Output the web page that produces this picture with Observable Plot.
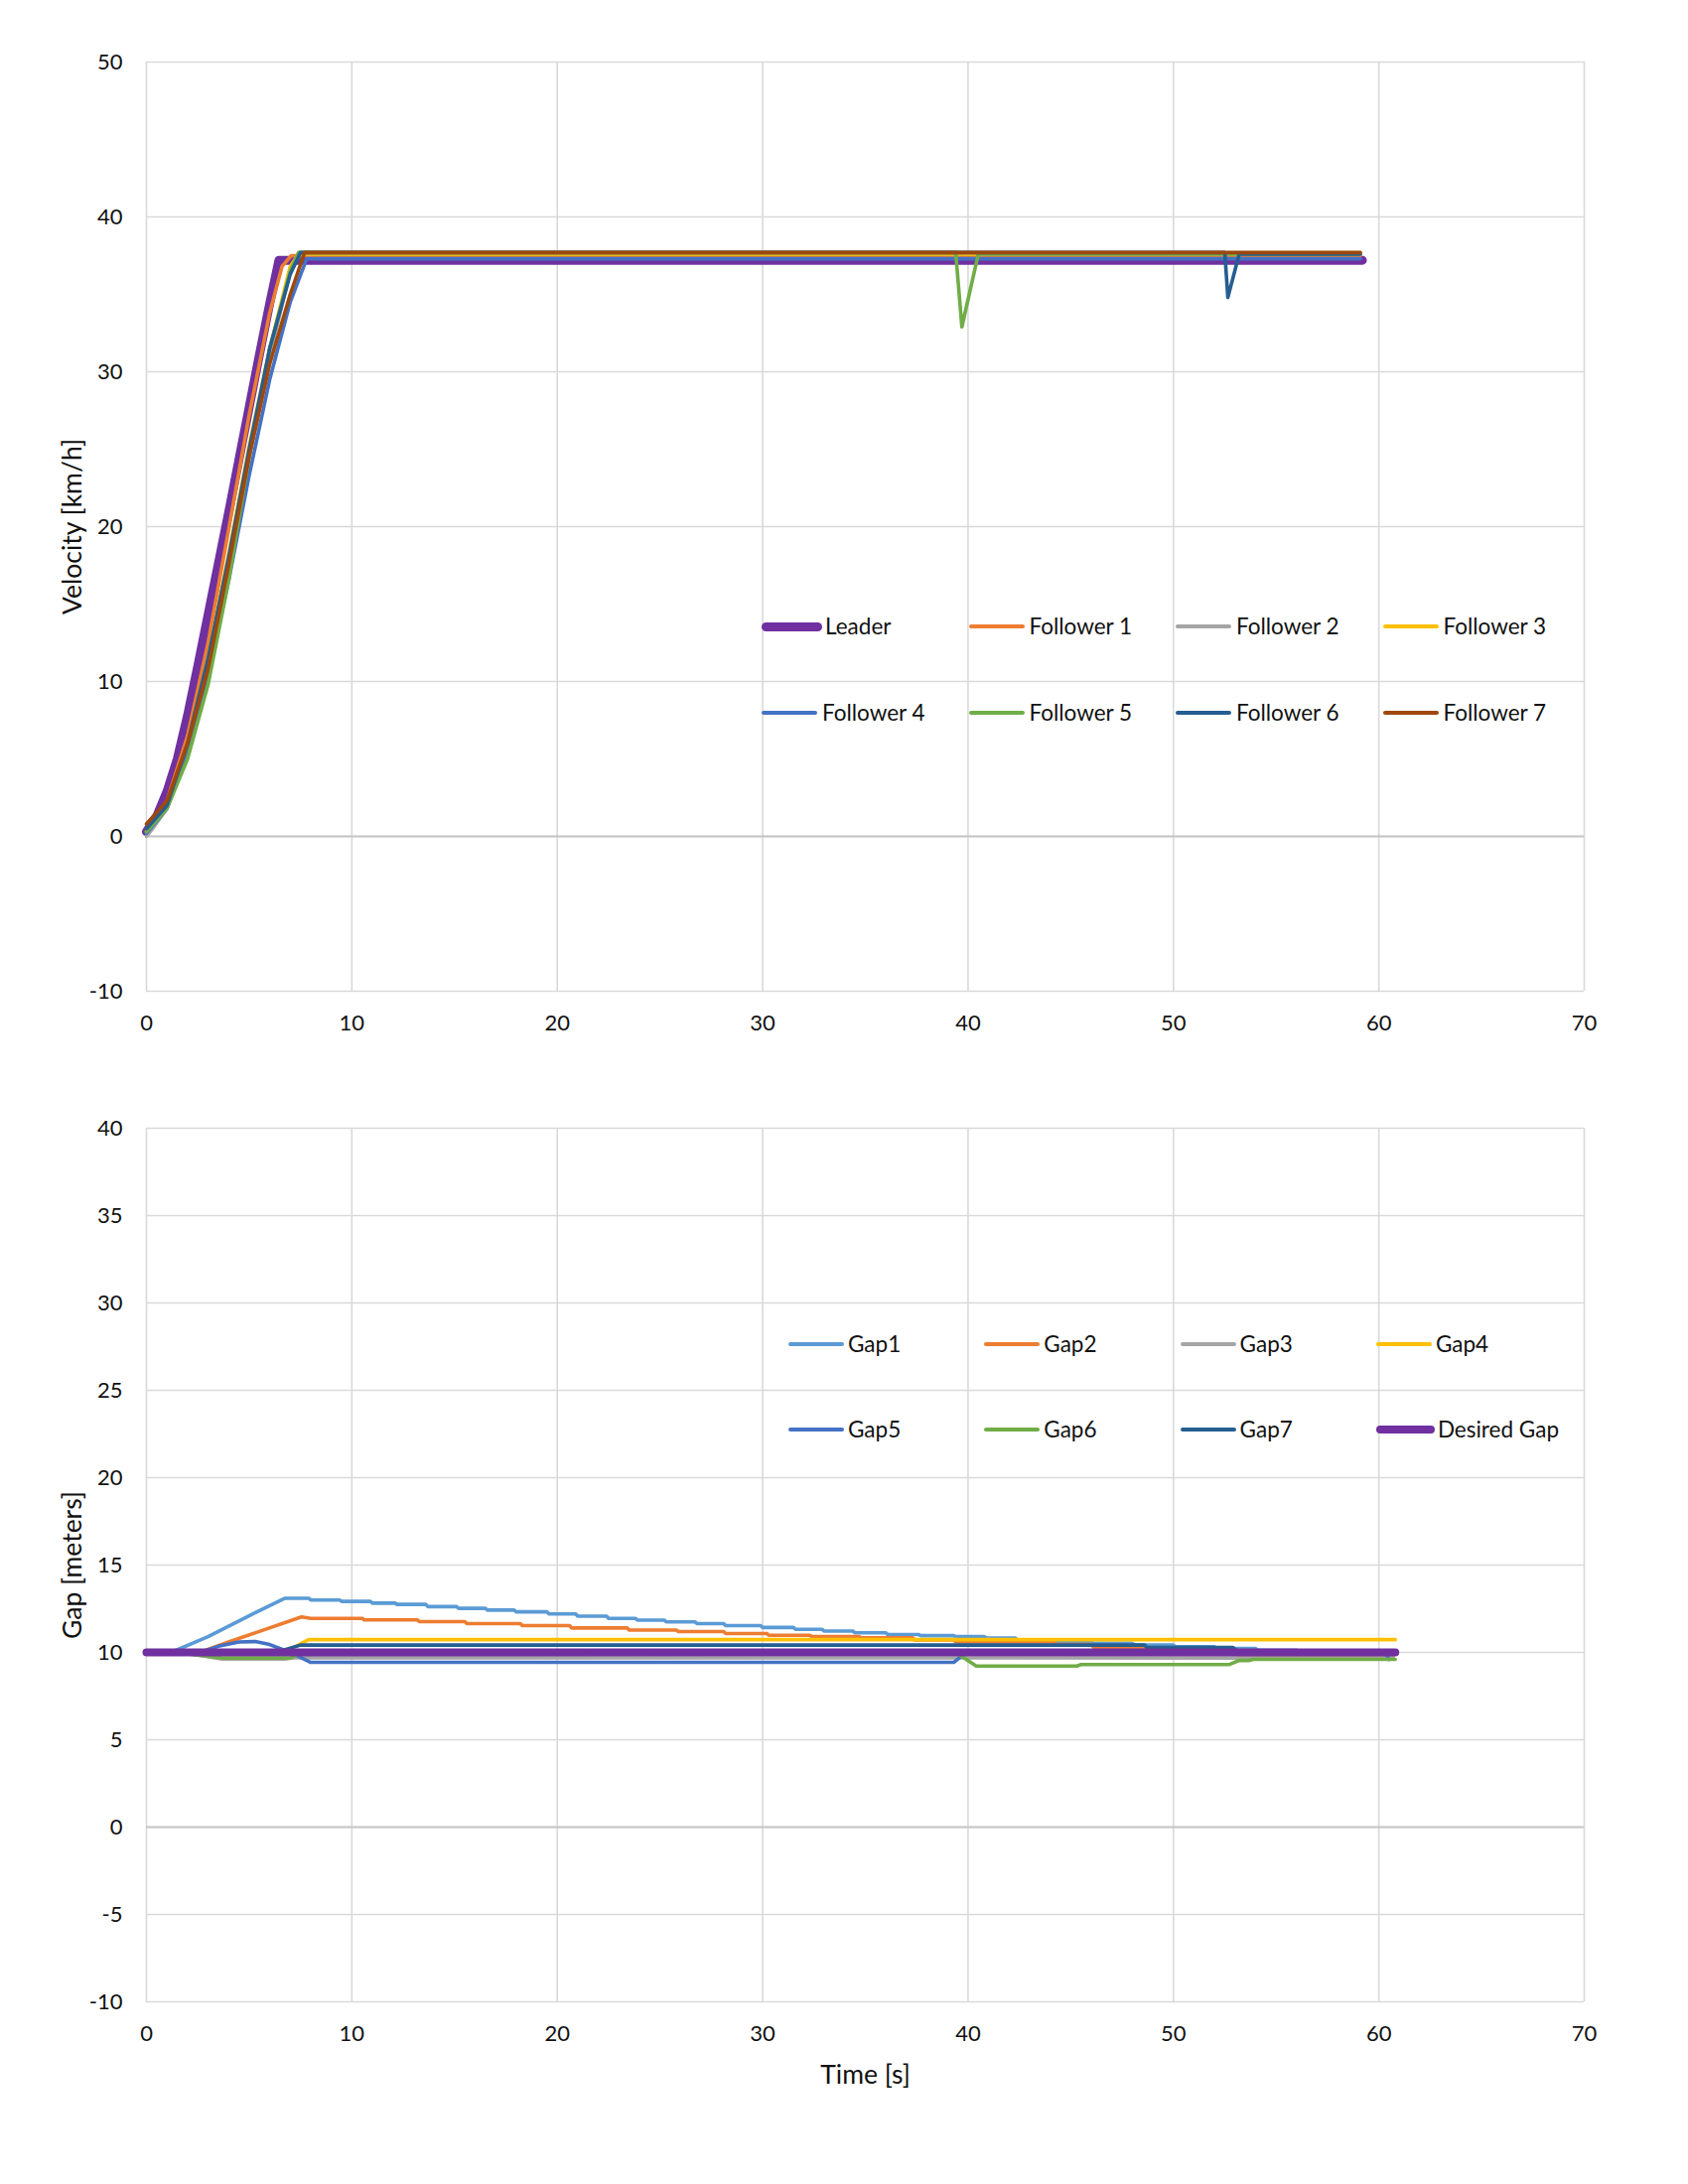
<!DOCTYPE html>
<html>
<head>
<meta charset="utf-8">
<script src="https://cdn.jsdelivr.net/npm/d3@7"></script>
<script src="https://cdn.jsdelivr.net/npm/@observablehq/plot@0.6"></script>
<style>
  body { margin: 0; background: #fff; }
  #page { position: relative; width: 1700px; height: 2200px; font-family: Lato, "Open Sans", sans-serif; }
  .chart { position: absolute; left: 0; }
  .lg { position: absolute; display: flex; align-items: center; font-size: 22.5px; line-height: 30px; color: #111; white-space: nowrap; transform: translateY(-50%); }
  .lg .sw { display: inline-block; border-radius: 999px; }
</style>
</head>
<body>
<div id="page"></div>
<script>
// ---------- Tick values ----------
const timeTicks = [0, 10, 20, 30, 40, 50, 60, 70];
const velocityTicks = [-10, 0, 10, 20, 30, 40, 50];
const gapTicks = [-10, -5, 0, 5, 10, 15, 20, 25, 30, 35, 40];

// ---------- Velocity series [time s, km/h] ----------
const leader = [[0,0.3],[0.5,1.3],[1,2.9],[1.5,5],[2,7.8],[2.5,11],[3,14.3],[3.5,17.6],[4,20.9],[4.5,24.3],[5,27.7],[5.5,31.1],[6,34.4],[6.45,37.2],[59.2,37.2]];
const follower1 = [[0,0.5],[1,2.3],[2,6.5],[3,12.5],[4,19.8],[5,27.2],[6,33.8],[6.6,36.8],[7.05,37.5],[59.1,37.5]];
const follower2 = [[0,0],[0.3,0.5],[1,1.8],[2,5.5],[3,11],[4,17.5],[5,24.5],[6,31],[7,36.5],[7.5,37.6],[59.1,37.6]];
const follower3 = [[0,0.3],[1,2],[2,5.8],[3,11.5],[4,18.2],[5,25.2],[6,31.5],[7,36.8],[7.4,37.6],[59.1,37.6]];
const follower4 = [[0,0.2],[1,1.8],[2,5.5],[3,10.5],[4,16.5],[5,23.3],[6,29.5],[7,34.5],[7.8,37.3],[59.1,37.3]];
const follower5 = [[0,0.3],[1,1.8],[2,5],[3,9.8],[4,16.5],[5,24.5],[6,31.5],[7,36.5],[7.4,37.7],[39.4,37.7],[39.7,32.9],[40.5,37.6],[59.1,37.6]];
const follower6 = [[0,0.5],[1,2],[2,6],[3,11.5],[4,18],[5,25],[6,31.5],[7,36.3],[7.5,37.7],[52.5,37.7],[52.65,34.8],[53.2,37.6],[59.1,37.6]];
const follower7 = [[0,0.8],[1,2.3],[2,6],[3,10.8],[4,17.5],[5,24.5],[6,30.5],[7,35],[7.7,37.7],[59.1,37.7]];

const velocityNames = ["Leader","Follower 1","Follower 2","Follower 3","Follower 4","Follower 5","Follower 6","Follower 7"];
const velocityColors = ["#7030A0","#ED7D31","#A5A5A5","#FFC000","#4472C4","#70AD47","#255E91","#9E480E"];

// ---------- Gap series [time s, meters] ----------
const gap1 = [[0,10],[1.2,10],[3,10.9],[5,12.1],[6.75,13.1],[7.9,13.1],[8,13.0],[9.4,13.0],[9.5,12.92],[10.9,12.92],[11,12.82],[12.1,12.82],[12.2,12.75],[13.6,12.75],[13.7,12.62],[15.1,12.62],[15.2,12.52],[16.5,12.52],[16.6,12.42],[17.9,12.42],[18,12.32],[19.5,12.32],[19.6,12.2],[20.9,12.2],[21,12.07],[22.4,12.07],[22.5,11.95],[23.8,11.95],[23.9,11.85],[25.2,11.85],[25.3,11.75],[26.7,11.75],[26.8,11.65],[28.1,11.65],[28.2,11.53],[29.9,11.53],[30,11.43],[31.5,11.43],[31.6,11.32],[32.9,11.32],[33,11.22],[34.4,11.22],[34.5,11.12],[36,11.12],[36.1,11.02],[37.6,11.02],[37.7,10.96],[39.3,10.96],[39.4,10.9],[40.8,10.9],[40.9,10.82],[42.3,10.82],[42.4,10.72],[44,10.72],[44.1,10.62],[46,10.62],[46.1,10.52],[48,10.52],[48.1,10.42],[50,10.42],[50.1,10.32],[52,10.32],[52.1,10.22],[54,10.22],[54.1,10.12],[56,10.12],[56.1,10.05],[60.7,10.05]];
const gap2 = [[0,10],[2.6,10],[4,10.6],[5.5,11.2],[7.55,12.03],[8,11.95],[10.5,11.95],[10.6,11.86],[13.2,11.86],[13.3,11.76],[15.5,11.76],[15.6,11.65],[18.2,11.65],[18.3,11.53],[20.6,11.53],[20.7,11.4],[23.4,11.4],[23.5,11.28],[25.8,11.28],[25.9,11.19],[28.1,11.19],[28.2,11.08],[30.2,11.08],[30.3,10.98],[32.3,10.98],[32.4,10.9],[34.7,10.9],[34.8,10.83],[37.3,10.83],[37.4,10.72],[39.3,10.72],[39.4,10.6],[44.2,10.6],[44.3,10.45],[46,10.45],[46.1,10.3],[48.6,10.3],[48.7,10.15],[53,10.15],[53.1,9.85],[60.7,9.8]];
const gap3 = [[0,10],[1.6,10],[2.5,9.85],[3.7,9.62],[6.7,9.62],[7.3,9.7],[60.7,9.68]];
const gap4 = [[0,10],[2.5,10],[3,9.9],[5,9.9],[6.7,10],[7.9,10.73],[60.8,10.73]];
const gap5 = [[0,10],[2.6,10],[3.5,10.35],[4.5,10.6],[5.3,10.62],[6,10.45],[7,10],[8,9.43],[39.3,9.43],[39.9,10],[60.3,10],[60.5,9.6]];
const gap6 = [[0,10],[1.5,10],[2.5,9.85],[3.7,9.68],[7,9.68],[7.6,10],[39.4,10],[40.4,9.22],[45.3,9.22],[45.5,9.3],[52.7,9.3],[53.2,9.54],[53.7,9.54],[53.9,9.6],[60.8,9.6]];
const gap7 = [[0,10],[6.3,10],[7.5,10.42],[48.6,10.42],[48.7,10.28],[52.9,10.28],[53.2,10],[60.8,10]];
const desiredGap = [[0,10],[60.8,10]];

const gapNames = ["Gap1","Gap2","Gap3","Gap4","Gap5","Gap6","Gap7","Desired Gap"];
const gapColors = ["#5B9BD5","#ED7D31","#A5A5A5","#FFC000","#4472C4","#70AD47","#255E91","#7030A0"];

// ---------- Build ----------
const page = document.getElementById("page");
const FONT = "Lato, 'Open Sans', sans-serif";
const GRID = "#d9d9d9";

function seriesLine(points, color, width) {
  return Plot.line(points, {
    x: d => d[0], y: d => d[1], stroke: color, strokeWidth: width,
    strokeLinecap: "round", strokeLinejoin: "round"
  });
}

function makeChart({top, height, marginTop, marginBottom, yDomain, yTicks, yTitle, xTitle, series, widths}) {
  const marks = [
    Plot.gridX(timeTicks, {stroke: GRID, strokeOpacity: 1, strokeWidth: 1.6}),
    Plot.gridY(yTicks, {stroke: GRID, strokeOpacity: 1, strokeWidth: 1.6}),
    Plot.ruleY([0], {stroke: "#c6c6c6", strokeWidth: 2}),
    Plot.axisX(timeTicks, {tickSize: 0, tickPadding: 24, label: null, fontSize: 22, tickFormat: d => String(d)}),
    Plot.axisY(yTicks, {tickSize: 0, tickPadding: 24, label: null, fontSize: 22, tickFormat: d => String(d)}),
    ...series.map((s, i) => seriesLine(s.data, s.color, widths[i])),
    Plot.text([yTitle], {text: d => d, frameAnchor: "left", dx: -74, rotate: -90, textAnchor: "middle", lineAnchor: "middle", fontSize: 26.5, fill: "#111"})
  ];
  if (xTitle) marks.push(Plot.text([xTitle], {text: d => d, frameAnchor: "bottom", dy: 74, textAnchor: "middle", lineAnchor: "middle", fontSize: 26.5, fill: "#111"}));
  const svg = Plot.plot({
    width: 1700, height, marginTop, marginBottom, marginLeft: 147, marginRight: 105,
    x: {type: "linear", domain: [0, 70]},
    y: {type: "linear", domain: yDomain},
    style: {fontFamily: FONT, fontSize: "22px", color: "#111", background: "transparent", overflow: "visible"},
    marks
  });
  svg.classList.add("chart");
  svg.style.top = top + "px";
  page.appendChild(svg);
}

const velocitySeries = [leader, follower1, follower2, follower3, follower4, follower5, follower6, follower7]
  .map((data, i) => ({data, color: velocityColors[i]}));
const gapSeries = [gap1, gap2, gap3, gap4, gap5, gap6, gap7, desiredGap]
  .map((data, i) => ({data, color: gapColors[i]}));

makeChart({top: 0, height: 1060, marginTop: 62, marginBottom: 62, yDomain: [-10, 50], yTicks: velocityTicks,
  yTitle: "Velocity [km/h]", series: velocitySeries, widths: [9, 3.6, 3.6, 3.6, 3.6, 3.6, 3.6, 3.6]});
makeChart({top: 1080, height: 1036, marginTop: 56, marginBottom: 100, yDomain: [-10, 40], yTicks: gapTicks,
  yTitle: "Gap [meters]", xTitle: "Time [s]", series: gapSeries, widths: [3.6, 3.6, 3.6, 3.6, 3.6, 3.6, 3.6, 8]});

// ---------- Legends (HTML) ----------
function legend(names, colors, thickIndex, x0, step, rows, swatchW, thickW, gap, thickGap, thickH) {
  names.forEach((name, i) => {
    const col = i % 4, row = Math.floor(i / 4);
    const thick = i === thickIndex;
    const el = document.createElement("div");
    el.className = "lg";
    el.style.left = (x0 + col * step) + "px";
    el.style.top = rows[row] + "px";
    const sw = document.createElement("span");
    sw.className = "sw";
    sw.style.width = (thick ? thickW : swatchW) + "px";
    sw.style.height = (thick ? thickH : 4.5) + "px";
    sw.style.background = colors[i];
    sw.style.marginRight = (thick ? thickGap : gap) + "px";
    const tx = document.createElement("span");
    tx.textContent = name;
    el.appendChild(sw); el.appendChild(tx);
    page.appendChild(el);
  });
}
legend(velocityNames, velocityColors, 0, 767, 208.5, [631, 718], 56, 61, 5, 3, 9);
legend(gapNames, gapColors, 7, 794, 197.3, [1354, 1440], 56, 59, 4, 3, 7.5);
</script>
</body>
</html>
